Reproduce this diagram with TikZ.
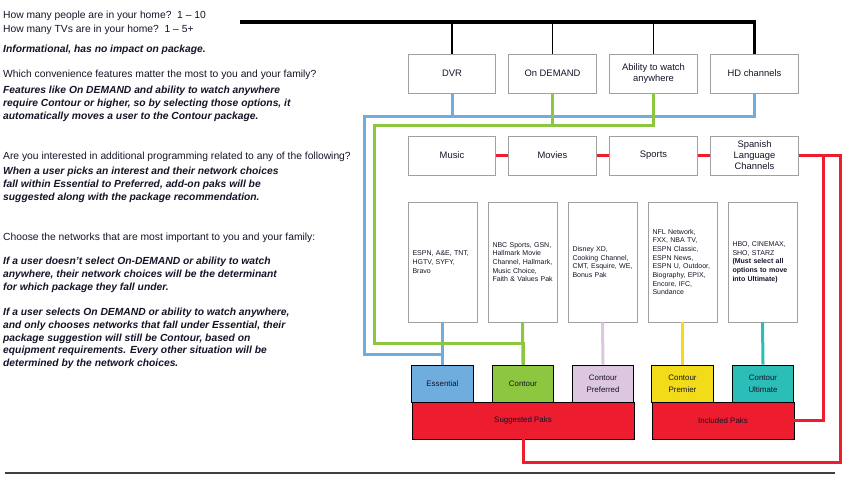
\documentclass[tikz,border=0pt]{standalone}
\usepackage{fontspec}
\setmainfont{Liberation Sans}
\definecolor{cblue}{RGB}{111,173,223}
\definecolor{cgreen}{RGB}{141,198,63}
\definecolor{clilac}{RGB}{221,198,224}
\definecolor{cyellow}{RGB}{242,220,26}
\definecolor{cteal}{RGB}{43,189,184}
\definecolor{cred}{RGB}{237,28,46}
\definecolor{cgray}{RGB}{160,160,160}
\definecolor{ctext}{RGB}{20,20,40}
\definecolor{cline}{RGB}{64,64,64}
\begin{document}
\begin{tikzpicture}[x=1pt,y=-1pt,
  q/.style={anchor=base west, inner sep=0, font=\fontsize{10.3}{12}\selectfont, text=ctext},
  qi/.style={anchor=base west, inner sep=0, font=\fontsize{10.3}{12}\selectfont\bfseries\itshape, text=ctext},
  fbox/.style={draw=cgray, line width=0.9pt, minimum width=87.5pt, minimum height=39pt, inner sep=1pt, align=center, font=\fontsize{9.4}{11.5}\selectfont, text=ctext},
  nbox/.style={draw=cgray, line width=0.9pt, text width=60pt, inner xsep=4.5pt, minimum height=120pt, align=left, font=\fontsize{7}{8.7}\selectfont, text=ctext},
  pbox/.style={draw=black, line width=0.9pt, minimum width=61.5pt, minimum height=37pt, inner sep=1pt, align=center, font=\fontsize{7.9}{12}\selectfont, text=ctext},
  bigbox/.style={draw=black, line width=0.9pt, fill=cred, minimum height=37pt, inner sep=1pt, font=\fontsize{7.9}{12}\selectfont, text=ctext},
  bl/.style={draw=cblue, line width=3pt},
  gl/.style={draw=cgreen, line width=3pt},
  rl/.style={draw=cred, line width=3pt},
  blk/.style={draw=black, line width=1.7pt}
]
\useasboundingbox (0,0) rectangle (856,480);

% left texts
\node[q] (l1) at (3,18.5) {How many people are in your home?\ \ 1 – 10};
\node[q] (l2) at (3,32.5) {How many TVs are in your home?\ \ 1 – 5+};
\node[qi] (l3) at (3,52.5) {Informational, has no impact on package.};
\node[q] (l4) at (3,77.5) {Which convenience features matter the most to you and your family?};
\node[qi] (l5) at (3,93.5) {Features like On DEMAND and ability to watch anywhere};
\node[qi] (l6) at (3,106.5) {require Contour or higher, so by selecting those options, it};
\node[qi] (l7) at (3,119.5) {automatically moves a user to the Contour package.};
\node[q] (l8) at (3,159.5) {Are you interested in additional programming related to any of the following?};
\node[qi] (l9) at (3,174.5) {When a user picks an interest and their network choices};
\node[qi] (l10) at (3,187.5) {fall within Essential to Preferred, add-on paks will be};
\node[qi] (l11) at (3,200.5) {suggested along with the package recommendation.};
\node[q] (l12) at (3,240.5) {Choose the networks that are most important to you and your family:};
\node[qi] (l13) at (3,264.5) {If a user doesn’t select On-DEMAND or ability to watch};
\node[qi] (l14) at (3,277.5) {anywhere, their network choices will be the determinant};
\node[qi] (l15) at (3,290.5) {for which package they fall under.};
\node[qi] (l16) at (3,315.5) {If a user selects On DEMAND or ability to watch anywhere,};
\node[qi] (l17) at (3,328.5) {and only chooses networks that fall under Essential, their};
\node[qi] (l18) at (3,341.5) {package suggestion will still be Contour, based on};
\node[qi] (l19) at (3,353.5) {equipment requirements. Every other situation will be};
\node[qi] (l20) at (3,366.5) {determined by the network choices.};

% feature boxes
\node[fbox] (dvr) at (452,73.5) {DVR};
\node[fbox] (ondemand) at (552.5,73.5) {On DEMAND};
\node[fbox] (anywhere) at (653.5,73.5) {Ability to watch\\anywhere};
\node[fbox] (hd) at (754.5,73.5) {HD channels};

% interest boxes
\node[fbox] (music) at (452,155.5) {Music};
\node[fbox] (movies) at (552.5,155.5) {Movies};
\node[fbox] (sports) at (653.5,155.5) {Sports};
\node[fbox, font=\fontsize{9.4}{11}\selectfont] (spanish) at (754.5,155.5) {Spanish\\Language\\Channels};

% network boxes
\node[nbox] (net1) at (442.5,262) {\mbox{ESPN, A\&E, TNT,}\\\mbox{HGTV, SYFY,}\\Bravo};
\node[nbox] (net2) at (522.5,262) {\mbox{NBC Sports, GSN,}\\\mbox{Hallmark Movie}\\\mbox{Channel, Hallmark,}\\\mbox{Music Choice,}\\\mbox{Faith \& Values Pak}};
\node[nbox] (net3) at (602.5,262) {\mbox{Disney XD,}\\\mbox{Cooking Channel,}\\\mbox{CMT, Esquire, WE,}\\\mbox{Bonus Pak}};
\node[nbox] (net4) at (682.5,262) {\mbox{NFL Network,}\\\mbox{FXX, NBA TV,}\\\mbox{ESPN Classic,}\\\mbox{ESPN News,}\\\mbox{ESPN U, Outdoor,}\\\mbox{Biography, EPIX,}\\\mbox{Encore, IFC,}\\Sundance};
\node[nbox] (net5) at (762.5,262) {\mbox{HBO, CINEMAX,}\\\mbox{SHO, STARZ}\\\bfseries \mbox{(Must select all}\\\mbox{options to move}\\\mbox{into Ultimate)}};

% package boxes
\node[pbox, fill=cblue] (essential) at (442.5,383.5) {Essential};
\node[pbox, fill=cgreen] (contour) at (523,383.5) {Contour};
\node[pbox, fill=clilac] (preferred) at (603,383.5) {Contour\\Preferred};
\node[pbox, fill=cyellow] (premier) at (682.5,383.5) {Contour\\Premier};
\node[pbox, fill=cteal] (ultimate) at (763,383.5) {Contour\\Ultimate};
\node[bigbox, minimum width=222pt] (suggested) at (523,420.5) {Suggested Paks};
\node[bigbox, minimum width=142pt] (included) at (723,420.5) {Included Paks};

% black connectors
\coordinate (bk) at (240,22);
\draw[blk, line width=3.2pt] (bk) -| (hd.north);
\draw[blk] (dvr.north |- bk) -- (dvr.north);
\draw[blk] (ondemand.north |- bk) -- (ondemand.north);
\draw[blk] (anywhere.north |- bk) -- (anywhere.north);

% blue connectors
\coordinate (b1) at (364,116);
\coordinate (b2) at (364,354);
\draw[bl] (hd.south) |- (b1) -- (b2) -| (essential.north);
\draw[bl] (dvr.south) -- (dvr.south |- b1);
\draw[bl] (net1.south) -- (essential.north);

% green connectors
\coordinate (g1) at (374,125);
\coordinate (g2) at (374,343);
\draw[gl] (anywhere.south) |- (g1) -- (g2) -| (contour.north);
\draw[gl] (ondemand.south) -- (ondemand.south |- g1);
\draw[gl] (net2.south) -- (contour.north);

% other package connectors
\draw[draw=clilac, line width=3pt] (net3.south) -- (preferred.north);
\draw[draw=cyellow, line width=3pt] (net4.south) -- (premier.north);
\draw[draw=cteal, line width=3pt] (net5.south) -- (ultimate.north);

% red connectors
\draw[rl] (music.east) -- (movies.west);
\draw[rl] (movies.east) -- (sports.west);
\draw[rl] (sports.east) -- (spanish.west);
\coordinate (r1) at (840,155.5);
\coordinate (r2) at (840,462);
\coordinate (r3) at (823,155.5);
\draw[rl] (spanish.east) -- (r1) -- (r2) -| (suggested.south);
\draw[rl] (r3) |- (included.east);

% bottom rule
\coordinate (h1) at (5,473);
\coordinate (h2) at (835,473);
\draw[draw=cline, line width=1.3pt] (h1) -- (h2);
\end{tikzpicture}
\end{document}
